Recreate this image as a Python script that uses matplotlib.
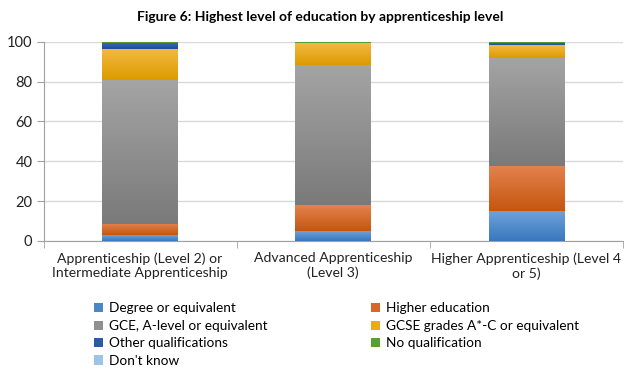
import numpy as np
import matplotlib
matplotlib.use("Agg")
import matplotlib.pyplot as plt
from matplotlib.colors import LinearSegmentedColormap
from matplotlib.patches import Patch

plt.rcParams['font.family'] = ['Lato', 'DejaVu Sans']

# Data (percent of apprentices)
categories = ['Apprenticeship (Level 2) or\nIntermediate Apprenticeship',
              'Advanced Apprenticeship\n(Level 3)',
              'Higher Apprenticeship (Level 4\nor 5)']
series_names = ['Degree or equivalent', 'Higher education',
                'GCE, A-level or equivalent', 'GCSE grades A*-C or equivalent',
                'Other qualifications', 'No qualification', "Don't know"]
degree = [3.0, 5.0, 15.0]
higher_ed = [5.7, 13.0, 22.7]
gce = [72.3, 70.3, 54.3]
gcse = [15.5, 11.0, 6.5]
other_qual = [2.8, 0.3, 0.7]
no_qual = [0.4, 0.3, 0.6]
dont_know = [0.3, 0.1, 0.2]
series_values = [degree, higher_ed, gce, gcse, other_qual, no_qual, dont_know]

# (top colour, bottom colour) for the Excel-like gradient fill
grad_colors = [('#6ea2d8', '#3a77bf'),
               ('#e3834f', '#c5560f'),
               ('#a4a4a4', '#7a7a7a'),
               ('#f3b840', '#dc9c00'),
               ('#3767b7', '#1f4c9a'),
               ('#63a63c', '#4e9128'),
               ('#a3c7e8', '#8ab6df')]
legend_colors = ['#4a86c8', '#d8682a', '#909090', '#eaab1a', '#2a5aaa', '#58a030', '#9dc3e6']

fig = plt.figure(figsize=(6.4, 3.77), dpi=100)
ax = fig.add_axes([0.068, 0.361, 0.905, 0.528])

x = np.arange(len(categories))
bottom = np.zeros(len(categories))
grad = np.linspace(1, 0, 64).reshape(-1, 1)
for vals, (ctop, cbot) in zip(series_values, grad_colors):
    bars = ax.bar(x, vals, width=0.39, bottom=bottom, color=cbot, linewidth=0, zorder=2)
    cmap = LinearSegmentedColormap.from_list('g', [cbot, ctop])
    for b in bars:
        x0, y0 = b.get_x(), b.get_y()
        w, h = b.get_width(), b.get_height()
        if h <= 0:
            continue
        im = ax.imshow(grad, cmap=cmap, extent=[x0, x0 + w, y0, y0 + h],
                       aspect='auto', origin='upper', zorder=3, interpolation='bilinear')
        im.set_clip_path(b)
    bottom += np.array(vals)

ax.set_xlim(-0.5, len(categories) - 0.5)
ax.set_ylim(0, 100)
ax.set_yticks(range(0, 101, 20))
ax.set_xticks(x)
ax.set_xticklabels(categories, fontsize=10.1, color='#222222', linespacing=1.25)
ax.set_xticks(np.arange(-0.5, len(categories), 1), minor=True)
ax.tick_params(axis='x', which='major', length=0, pad=8)
ax.tick_params(axis='x', which='minor', length=5, color='#a0a0a0')
ax.tick_params(axis='y', length=5, color='#a0a0a0', labelsize=10.5, labelcolor='#222222', pad=3)
ax.yaxis.grid(True, color='#d9d9d9', linewidth=1, zorder=0)
ax.set_axisbelow(True)
for s in ['top', 'right']:
    ax.spines[s].set_visible(False)
for s in ['left', 'bottom']:
    ax.spines[s].set_color('#a0a0a0')

fig.text(0.5, 0.955, 'Figure 6: Highest level of education by apprenticeship level',
         ha='center', va='center', fontsize=10, fontweight='bold')

handles = [Patch(facecolor=c, edgecolor='none') for c in legend_colors]
# matplotlib fills legend columns first, so reorder to read row by row
order = [0, 2, 4, 6, 1, 3, 5]
fig.legend([handles[i] for i in order], [series_names[i] for i in order],
           ncol=2, loc='upper left', bbox_to_anchor=(0.138, 1 - 297 / 377),
           bbox_transform=fig.transFigure, frameon=False, fontsize=9.8,
           handlelength=0.65, handleheight=0.65, handletextpad=0.45,
           columnspacing=7.6, labelspacing=0.4, borderaxespad=0)

fig.savefig('out.png', dpi=100)
